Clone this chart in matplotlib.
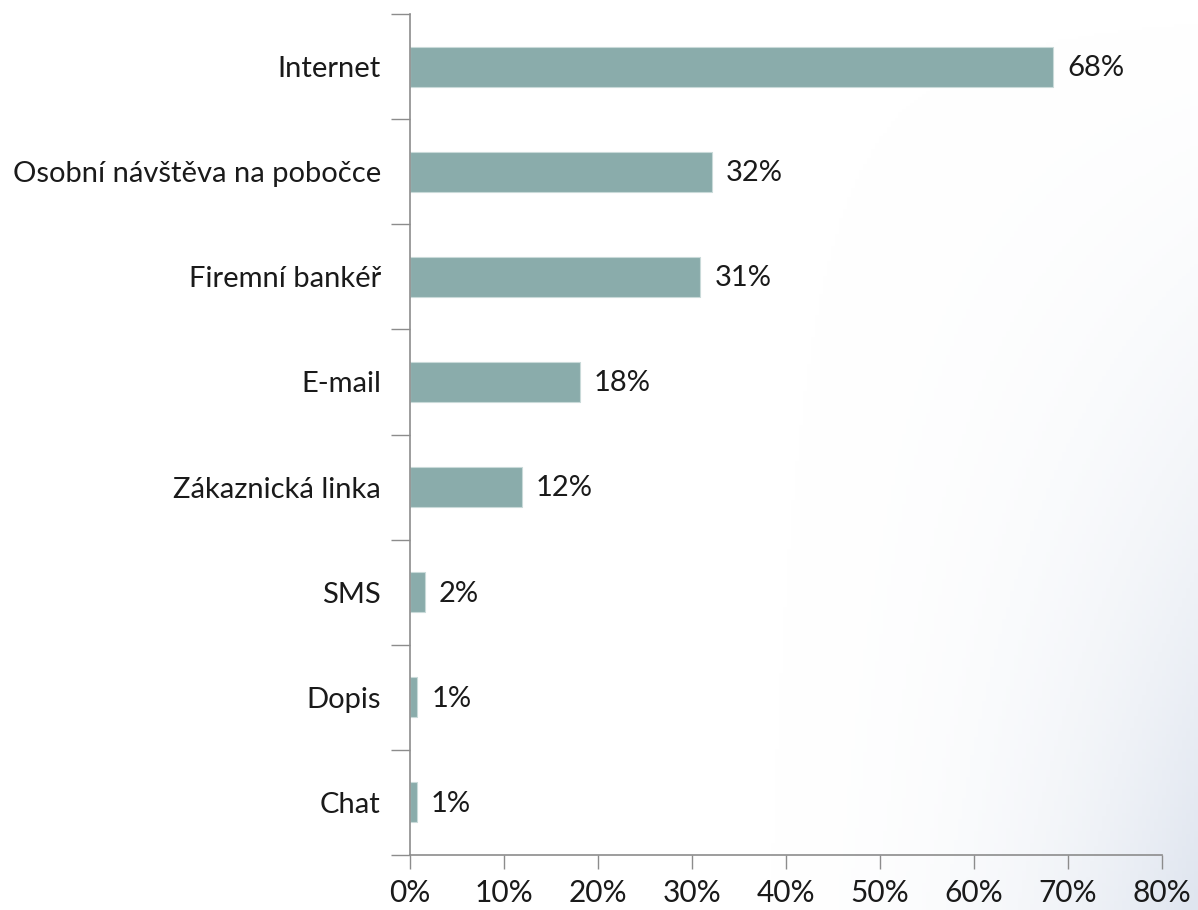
import numpy as np
import matplotlib.pyplot as plt
from matplotlib.colors import LinearSegmentedColormap
from matplotlib.ticker import FixedLocator, PercentFormatter

kanaly = ["Internet", "Osobní návštěva na pobočce", "Firemní bankéř", "E-mail",
          "Zákaznická linka", "SMS", "Dopis", "Chat"]
podil = [68.4, 32.1, 30.9, 18.1, 11.9, 1.6, 0.8, 0.7]

plt.rcParams['font.family'] = ['Lato', 'DejaVu Sans']

fig = plt.figure(figsize=(11.98, 9.10), dpi=100)

# light haze in the lower right corner of the slide
bg = fig.add_axes([0, 0, 1, 1], zorder=-10)
xx, yy = np.meshgrid(np.linspace(0, 1, 300), np.linspace(0, 1, 300))
haze = np.clip((xx - 0.6) / 0.4, 0, 1) ** 2.5 * np.clip(yy ** 1.5, 0, 1)
cm = LinearSegmentedColormap.from_list('haze', ['#ffffff', '#dfe5ef'])
bg.imshow(haze, extent=[0, 1, 0, 1], origin='upper', cmap=cm,
          vmin=0, vmax=1, aspect='auto')
bg.axis('off')

ax = fig.add_axes([0.3422, 0.0604, 0.6278, 0.9242])
ax.patch.set_alpha(0)
pos = np.arange(len(kanaly))
ax.barh(pos, podil, height=0.38, color='#8AACAB', edgecolor='#C9DAD9', linewidth=0.8)

for p, v in zip(pos, podil):
    ax.annotate(f"{v:.0f}%", (v, p), xytext=(10, -1), textcoords='offset points',
                va='center', ha='left', fontsize=21, color='#1a1a1a')

ax.set_ylim(len(kanaly) - 0.5, -0.5)
ax.set_xlim(0, 80)

ax.yaxis.set_major_locator(FixedLocator(np.arange(-0.5, len(kanaly))))
ax.yaxis.set_major_formatter(plt.NullFormatter())
ax.set_yticks(pos, kanaly, minor=True)
ax.tick_params(axis='y', which='major', length=14, width=1, color='#8c8c8c')
ax.tick_params(axis='y', which='minor', length=0, pad=21, labelsize=21, labelcolor='#1a1a1a')

ax.set_xticks(np.arange(0, 81, 10))
ax.xaxis.set_major_formatter(PercentFormatter(decimals=0))
ax.tick_params(axis='x', length=10, width=1, color='#8c8c8c', pad=7,
               labelsize=21.5, labelcolor='#1a1a1a')

for s in ['top', 'right']:
    ax.spines[s].set_visible(False)
for s in ['left', 'bottom']:
    ax.spines[s].set_color('#8c8c8c')
    ax.spines[s].set_linewidth(1.2)

fig.savefig('out.png', dpi=100)
